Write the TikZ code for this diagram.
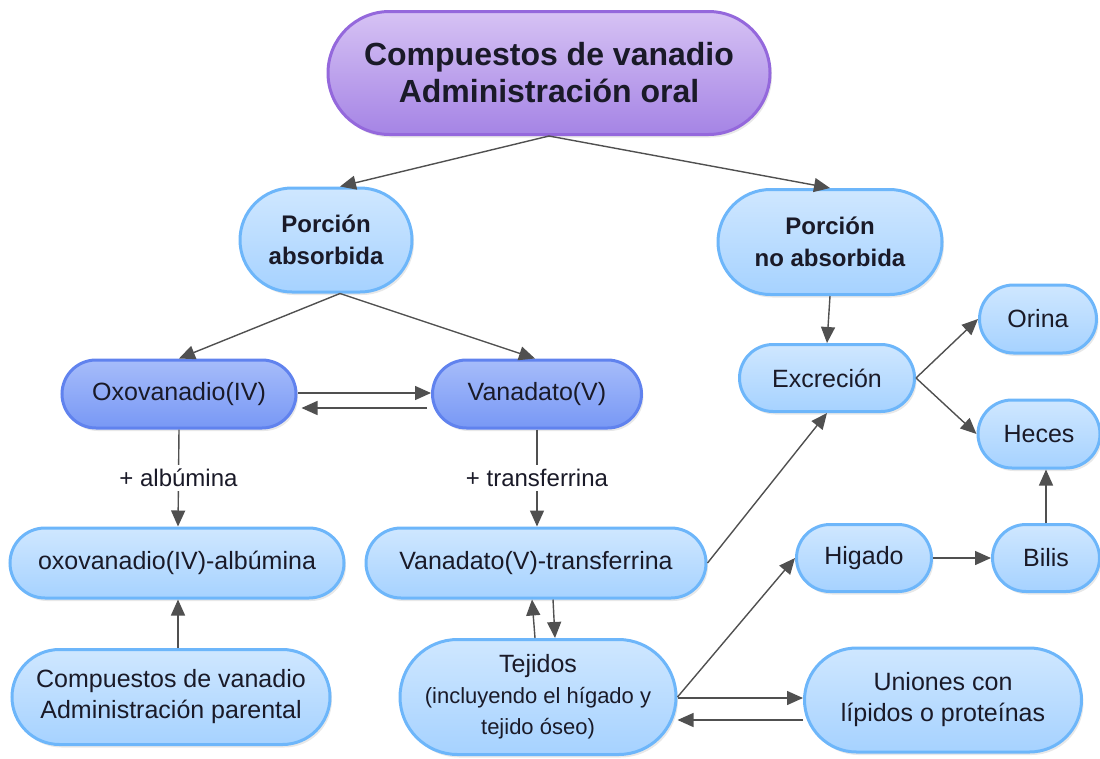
\documentclass[tikz,border=0pt]{standalone}
\usepackage{fontspec}
\setmainfont{Liberation Sans}
\usepackage{tikz}
\usepackage{xcolor}
\usetikzlibrary{arrows.meta,shadows,shapes.misc}
\definecolor{lightfill}{HTML}{A6D2FF}
\definecolor{lighttop}{HTML}{CFE7FF}
\definecolor{lightline}{HTML}{6DB6FA}
\definecolor{darkfill}{HTML}{7898F5}
\definecolor{darktop}{HTML}{A6BCFA}
\definecolor{darkline}{HTML}{6082EE}
\definecolor{violetfill}{HTML}{A584E5}
\definecolor{violettop}{HTML}{D6C2F4}
\definecolor{violetline}{HTML}{9468DC}
\definecolor{linkgray}{HTML}{505050}
\definecolor{inktext}{HTML}{1A1A28}
\newcommand{\smalltxt}{\fontsize{22}{28}\selectfont}

\begin{document}
\begin{tikzpicture}[x=1pt,y=-1pt,
  base/.style={rounded rectangle,rounded rectangle arc length=180,draw,line width=3pt,
    inner sep=0pt,align=center,text=inktext,
    drop shadow={opacity=0.18,shadow xshift=2pt,shadow yshift=-3pt}},
  lightbox/.style={base,draw=lightline,top color=lighttop,bottom color=lightfill,
    font=\fontsize{25}{31}\selectfont},
  darkbox/.style={base,draw=darkline,top color=darktop,bottom color=darkfill,
    font=\fontsize{25}{31}\selectfont},
  titlebox/.style={base,draw=violetline,top color=violettop,bottom color=violetfill,
    font=\bfseries\fontsize{32}{37}\selectfont},
  link/.style={draw=linkgray,line width=1.4pt,-{Triangle[length=16pt,width=14pt]}},
  linklbl/.style={fill=white,text=inktext,font=\fontsize{24}{28}\selectfont,inner sep=4pt}]
\useasboundingbox (0,0) rectangle (1100,758);

% nodes
\node[titlebox,minimum width=442pt,minimum height=123pt] (oral) at (549,73)
  {Compuestos de vanadio\\Administración oral};
\node[lightbox,font=\bfseries\fontsize{24}{32}\selectfont,
  minimum width=172pt,minimum height=104pt] (abs) at (326,240) {Porción\\absorbida};
\node[lightbox,font=\bfseries\fontsize{24}{32}\selectfont,
  minimum width=224pt,minimum height=105pt] (noabs) at (830,242) {Porción\\no absorbida};
\node[darkbox,minimum width=234pt,minimum height=68pt] (oxo) at (179,394) {Oxovanadio(IV)};
\node[darkbox,minimum width=209pt,minimum height=68pt] (vana) at (537,394) {Vanadato(V)};
\node[lightbox,minimum width=175pt,minimum height=67pt] (excr) at (827,378) {Excreción};
\node[lightbox,minimum width=117pt,minimum height=68pt] (orina) at (1038,319) {Orina};
\node[lightbox,minimum width=122pt,minimum height=68pt] (heces) at (1039,434) {Heces};
\node[lightbox,minimum width=334pt,minimum height=70pt] (oxoalb) at (177,563) {oxovanadio(IV)-albúmina};
\node[lightbox,minimum width=340pt,minimum height=70pt] (vanatrf) at (536,563) {Vanadato(V)-transferrina};
\node[lightbox,minimum width=135pt,minimum height=67pt] (higado) at (864,558) {Higado};
\node[lightbox,minimum width=107pt,minimum height=67pt] (bilis) at (1046,558) {Bilis};
\node[lightbox,minimum width=318pt,minimum height=95pt] (parent) at (171,697)
  {Compuestos de vanadio\\Administración parental};
\node[lightbox,minimum width=276pt,minimum height=115pt] (tejidos) at (538,697)
  {Tejidos\\\smalltxt (incluyendo el hígado y\\\smalltxt tejido óseo)};
\node[lightbox,minimum width=277pt,minimum height=104pt] (uniones) at (943,700)
  {Uniones con\\lípidos o proteínas};

% connectors
\draw[link] (oral.south) -- ([xshift=14pt]abs.north);
\draw[link] (oral.south) -- (noabs.north);
\draw[link] ([xshift=14pt]abs.south) -- (oxo.north);
\draw[link] ([xshift=14pt]abs.south) -- ([xshift=-2pt]vana.north);
\draw[link] ([yshift=1pt]oxo.east) -- ([yshift=1pt]vana.west);
\draw[link] ([yshift=-14pt,xshift=-4pt]vana.west) -- ([yshift=-14pt,xshift=4pt]oxo.east);
\draw[link] (oxo.south) -- node[linklbl]{+ albúmina} ([xshift=1pt]oxoalb.north);
\draw[link] (vana.south) -- node[linklbl]{+ transferrina} ([xshift=1pt]vanatrf.north);
\draw[link] ([xshift=7pt]parent.north) -- ([xshift=1pt]oxoalb.south);
\draw[link] ([xshift=-3pt]tejidos.north) -- ([xshift=-4pt]vanatrf.south);
\draw[link] ([xshift=17pt]vanatrf.south) -- ([xshift=17pt]tejidos.north);
\draw[link] (vanatrf.east) -- (excr.south);
\draw[link] (noabs.south) -- (excr.north);
\draw[link] (excr.east) -- (orina.west);
\draw[link] (excr.east) -- (heces.west);
\draw[link] (tejidos.east) -- (higado.west);
\draw[link] ([yshift=-1pt]tejidos.east) -- ([yshift=2pt]uniones.west);
\draw[link] ([yshift=-20pt]uniones.west) -- ([yshift=-23pt]tejidos.east);
\draw[link] (higado.east) -- (bilis.west);
\draw[link] (bilis.north) -- ([xshift=7pt]heces.south);
\end{tikzpicture}
\end{document}
